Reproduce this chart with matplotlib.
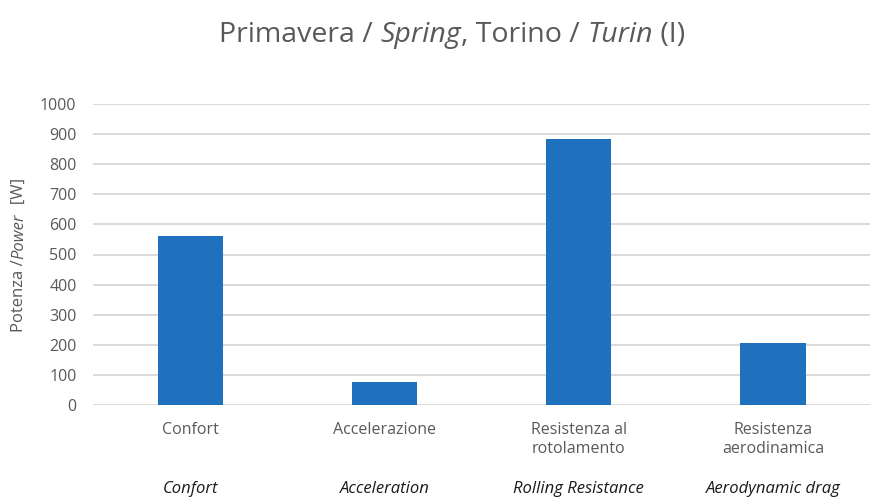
import matplotlib.pyplot as plt

categories = ["Confort", "Accelerazione", "Resistenza al\nrotolamento", "Resistenza\naerodinamica"]
categories_en = ["Confort", "Acceleration", "Rolling Resistance", "Aerodynamic drag"]
power = [560, 75, 885, 207]
yticks = [0, 100, 200, 300, 400, 500, 600, 700, 800, 900, 1000]

plt.rcParams["font.family"] = ["Open Sans", "DejaVu Sans"]
grey = "#595959"

fig = plt.figure(figsize=(8.71, 5), dpi=100)
ax = fig.add_axes([0.107, 0.19, 0.892, 0.602])

x = range(len(categories))
ax.bar(x, power, width=0.335, color="#1f70bd", zorder=3)

ax.set_ylim(0, 1000)
ax.set_xlim(-0.5, len(categories) - 0.5)
ax.set_yticks(yticks)
ax.set_xticks(list(x))
ax.set_xticklabels(categories, fontsize=11.5, color=grey, va="top", linespacing=1.25)
ax.tick_params(axis="y", length=0, pad=12, labelsize=11.5, labelcolor=grey)
ax.tick_params(axis="x", length=0, pad=12)
ax.grid(axis="y", color="#d4d4d4", linewidth=1.2, zorder=0)
for s in ax.spines.values():
    s.set_visible(False)

# english labels, italic, under the italian ones
for i, lab in enumerate(categories_en):
    ax.text(i, -0.28, lab, transform=ax.get_xaxis_transform(), ha="center", va="center",
            fontsize=12, style="italic", color="#1a1a1a")

# title with mixed styles, pieces chained one after the other
pieces = [("Primavera / ", "normal"), ("Spring", "italic"), (", Torino / ", "normal"),
          ("Turin", "italic"), (" (I)", "normal")]
tsize = 20.5
title_parts = [fig.text(0, 0.93, pieces[0][0], fontsize=tsize, color=grey, style=pieces[0][1], va="center")]
for txt, st in pieces[1:]:
    t = ax.annotate(txt, xy=(1, 0.5), xycoords=title_parts[-1], va="center", ha="left",
                    fontsize=tsize, color=grey, style=st, annotation_clip=False)
    title_parts.append(t)

# y label with italic part, rotated
ylab = [("Potenza /", "normal"), ("Power", "italic"), ("  [W]", "normal")]
ylab_parts = [fig.text(0.022, 0.3, ylab[0][0], rotation=90, fontsize=12, color=grey, ha="center", va="bottom")]
for txt, st in ylab[1:]:
    t = ax.annotate(txt, xy=(0.5, 1), xycoords=ylab_parts[-1], rotation=90, ha="center", va="bottom",
                    fontsize=12, color=grey, style=st, annotation_clip=False)
    ylab_parts.append(t)

# center the title and the y label
fig.canvas.draw()
r = fig.canvas.get_renderer()
x0 = title_parts[0].get_window_extent(r).x0
x1 = title_parts[-1].get_window_extent(r).x1
w = (x1 - x0) / fig.bbox.width
title_parts[0].set_x(0.519 - w / 2)
y0 = ylab_parts[0].get_window_extent(r).y0
y1 = ylab_parts[-1].get_window_extent(r).y1
h = (y1 - y0) / fig.bbox.height
ylab_parts[0].set_y(0.49 - h / 2)

fig.savefig("out.png", dpi=100)
